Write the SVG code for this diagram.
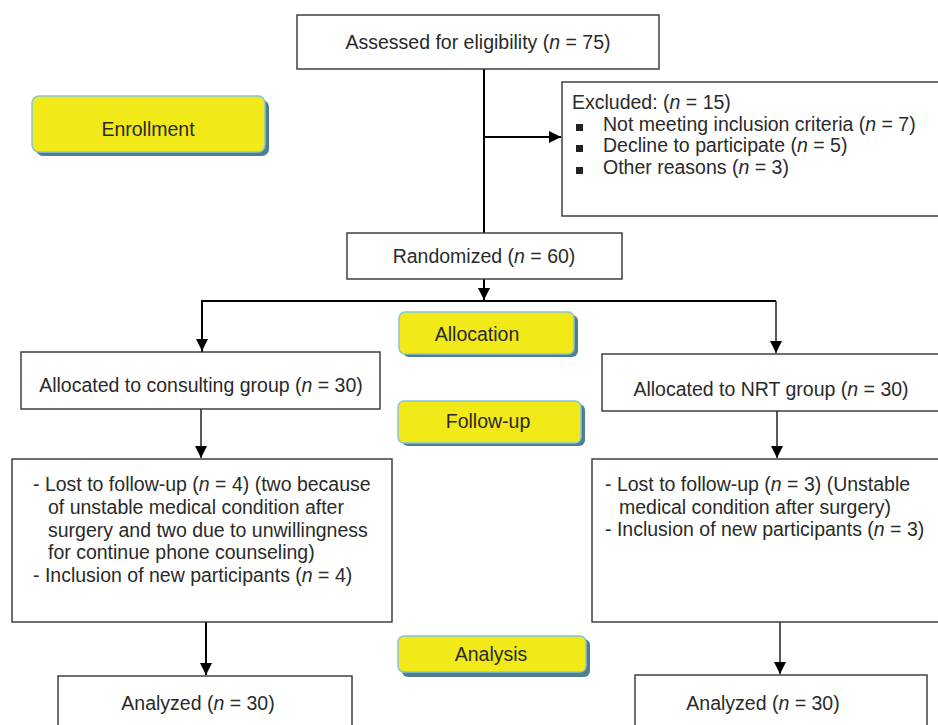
<svg xmlns="http://www.w3.org/2000/svg" width="938" height="725" viewBox="0 0 938 725">
<style>
.box{fill:#fff;stroke:#333;stroke-width:1.4}
.t{font-family:"Liberation Sans",Arial,sans-serif;font-size:19.5px;fill:#2a2a2a}
.c{text-anchor:middle}
.i{font-style:italic}
.ph{fill:#f2e918;stroke:#86c4d8;stroke-width:1.5}
.sh{fill:#4f7f8e}
.ln{fill:none;stroke:#000;stroke-width:2}
.thin{fill:none;stroke:#000;stroke-width:1.3}
</style>
<defs>
<marker id="ah" viewBox="0 0 10 10" refX="10" refY="5" markerWidth="10" markerHeight="10" markerUnits="userSpaceOnUse" orient="auto">
<path d="M0,0 L10,5 L0,10 Z" fill="#000"/>
</marker>
<marker id="ah2" viewBox="0 0 10 10" refX="10" refY="5" markerWidth="12" markerHeight="12" markerUnits="userSpaceOnUse" orient="auto">
<path d="M0,0 L10,5 L0,10 Z" fill="#000"/>
</marker>
</defs>

<g id="connectors">
<line class="ln" x1="484" y1="69" x2="484" y2="233"/>
<line class="ln" x1="484" y1="137" x2="561" y2="137" marker-end="url(#ah2)"/>
<line class="ln" x1="484" y1="279" x2="484" y2="300" marker-end="url(#ah2)"/>
<polyline class="ln" points="202,352 202,301 776,301"/>
<line class="ln" x1="202" y1="301" x2="202" y2="351" marker-end="url(#ah2)"/>
<line class="thin" x1="776" y1="301" x2="776" y2="353" marker-end="url(#ah2)"/>
<line class="thin" x1="201" y1="409" x2="201" y2="458" marker-end="url(#ah2)"/>
<line class="thin" x1="777" y1="411" x2="777" y2="458" marker-end="url(#ah2)"/>
<line class="ln" x1="206" y1="622" x2="206" y2="675" marker-end="url(#ah2)"/>
<line class="thin" x1="780" y1="622" x2="780" y2="674" marker-end="url(#ah2)"/>
</g>

<g id="enrollment">
<rect class="sh" x="36" y="100" width="233" height="56" rx="7"/>
<rect class="ph" x="32" y="96" width="233" height="56" rx="7"/>
<text class="t c" x="148" y="136">Enrollment</text>
</g>

<g id="allocation">
<rect class="sh" x="403" y="315" width="175" height="42" rx="6"/>
<rect class="ph" x="399" y="312" width="175" height="42" rx="6"/>
<text class="t c" x="477" y="341">Allocation</text>
</g>

<g id="followup-label">
<rect class="sh" x="402" y="404" width="183" height="42" rx="6"/>
<rect class="ph" x="398" y="401" width="183" height="42" rx="6"/>
<text class="t c" x="488" y="428">Follow-up</text>
</g>

<g id="analysis">
<rect class="sh" x="402" y="639" width="188" height="38" rx="6"/>
<rect class="ph" x="398" y="636" width="188" height="36" rx="6"/>
<text class="t c" x="491" y="661">Analysis</text>
</g>

<g id="assessed">
<rect class="box" x="297" y="15" width="362" height="54"/>
<text class="t c" x="478" y="49">Assessed for eligibility (<tspan class="i">n</tspan> = 75)</text>
</g>

<g id="excluded">
<rect class="box" x="562" y="82" width="390" height="134"/>
<text class="t" x="572" y="109">Excluded: (<tspan class="i">n</tspan> = 15)</text>
<rect x="576" y="124" width="7" height="7" fill="#222"/>
<text class="t" x="603" y="131">Not meeting inclusion criteria (<tspan class="i">n</tspan> = 7)</text>
<rect x="576" y="145" width="7" height="7" fill="#222"/>
<text class="t" x="603" y="152">Decline to participate (<tspan class="i">n</tspan> = 5)</text>
<rect x="576" y="167" width="7" height="7" fill="#222"/>
<text class="t" x="603" y="174">Other reasons (<tspan class="i">n</tspan> = 3)</text>
</g>

<g id="randomized">
<rect class="box" x="347" y="233" width="275" height="46"/>
<text class="t c" x="484" y="263">Randomized (<tspan class="i">n</tspan> = 60)</text>
</g>

<g id="consulting">
<rect class="box" x="21" y="352" width="359" height="57"/>
<text class="t c" x="201" y="392">Allocated to consulting group (<tspan class="i">n</tspan> = 30)</text>
</g>

<g id="nrt">
<rect class="box" x="602" y="354" width="345" height="57"/>
<text class="t c" x="771" y="396">Allocated to NRT group (<tspan class="i">n</tspan> = 30)</text>
</g>

<g id="followup-consulting">
<rect class="box" x="12" y="459" width="380" height="163"/>
<text class="t" x="33" y="491">- Lost to follow-up (<tspan class="i">n</tspan> = 4) (two because</text>
<text class="t" x="48" y="514">of unstable medical condition after</text>
<text class="t" x="48" y="537">surgery and two due to unwillingness</text>
<text class="t" x="48" y="559">for continue phone counseling)</text>
<text class="t" x="33" y="582">- Inclusion of new participants (<tspan class="i">n</tspan> = 4)</text>
</g>

<g id="followup-nrt">
<rect class="box" x="592" y="459" width="360" height="163"/>
<text class="t" x="605" y="491">- Lost to follow-up (<tspan class="i">n</tspan> = 3) (Unstable</text>
<text class="t" x="619" y="514">medical condition after surgery)</text>
<text class="t" x="605" y="536">- Inclusion of new participants (<tspan class="i">n</tspan> = 3)</text>
</g>

<g id="analyzed-consulting">
<rect class="box" x="58" y="676" width="294" height="60"/>
<text class="t c" x="198" y="710">Analyzed (<tspan class="i">n</tspan> = 30)</text>
</g>

<g id="analyzed-nrt">
<rect class="box" x="635" y="675" width="292" height="60"/>
<text class="t c" x="763" y="710">Analyzed (<tspan class="i">n</tspan> = 30)</text>
</g>
</svg>
